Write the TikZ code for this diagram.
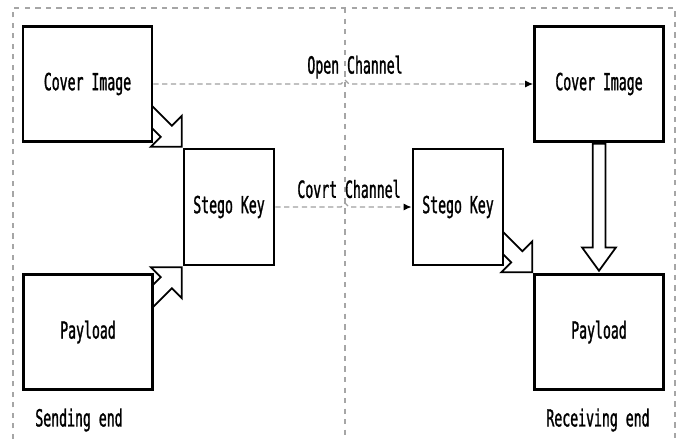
\documentclass[tikz,border=0pt]{standalone}
\usepackage{fontspec}
\usepackage{xcolor}
\usepackage{tikz}
\usetikzlibrary{arrows.meta,calc,shapes.arrows,backgrounds}
\newfontfamily\diagfont[FakeStretch=0.56,FakeBold=1.2]{DejaVu Sans Mono}

\begin{document}
\begin{tikzpicture}[
    x=0.02cm, y=-0.02cm,
    font={\diagfont\fontsize{13.4}{15}\selectfont},
    box/.style={rectangle, draw=black, fill=white, line width=1.6pt, align=center, minimum width=2.58cm, minimum height=2.3cm},
    keybox/.style={rectangle, draw=black, fill=white, line width=1.6pt, align=center, minimum width=1.8cm, minimum height=2.32cm},
    chan/.style={densely dashed, draw=gray!75, line width=0.7pt, -{Latex[length=0.16cm, width=0.14cm, color=black]}},
    frame/.style={dashed, draw=gray!70, line width=0.6pt},
    blockarr/.style={single arrow, draw=black, fill=white, line width=1pt, inner xsep=0pt, inner ysep=0.14cm, single arrow head extend=0.28cm, single arrow tip angle=90, minimum height=1.1cm},
    bigarr/.style={single arrow, draw=black, fill=white, line width=1pt, inner xsep=0pt, inner ysep=0.11cm, single arrow head extend=0.21cm, single arrow tip angle=72, minimum height=2.54cm}
]
    \useasboundingbox (0,0) rectangle (679,439);

    % Frame and divider
    \coordinate (divtop) at (345,8);
    \coordinate (divbot) at (345,439);
    \draw[frame] (13,439) -- (13,8) -- (675,8) -- (675,439);
    \draw[frame] (divtop) -- (divbot);

    % Sending end
    \node[box] (coverL) at (87.5,84) {Cover Image};
    \node[keybox] (keyL) at (229,207) {Stego Key};
    \node[box] (payL) at (88,332) {Payload};

    % Receiving end
    \node[box] (coverR) at (599,84) {Cover Image};
    \node[keybox] (keyR) at (458,207) {Stego Key};
    \node[box] (payR) at (599,332) {Payload};

    % Channels, hopping over the divider
    \draw[chan] (coverL.east) -- ($(coverL.east -| divtop)+(-4,0)$) -- ++(4,-4) -- ++(4,4) -- (coverR.west);
    \draw[chan] (keyL.east) -- ($(keyL.east -| divtop)+(-4,0)$) -- ++(4,-4) -- ++(4,4) -- (keyR.west);
    \node (open) at (355,67) {Open Channel};
    \node (covrt) at (349,189) {Covrt Channel};

    % Block arrows
    \begin{scope}[on background layer]
        \node[blockarr, rotate=-45, anchor=tip] (c2k) at (keyL.north west) {};
        \node[blockarr, rotate=45, anchor=tip] (p2k) at (keyL.south west) {};
        \node[blockarr, rotate=-45, anchor=tip] (k2p) at (payR.north west) {};
        \node[bigarr, rotate=-90, anchor=tail] (c2p) at (coverR.south) {};
    \end{scope}

    % End labels
    \node (send) at (79,420) {Sending end};
    \node (recv) at (598,420) {Receiving end};
\end{tikzpicture}
\end{document}
